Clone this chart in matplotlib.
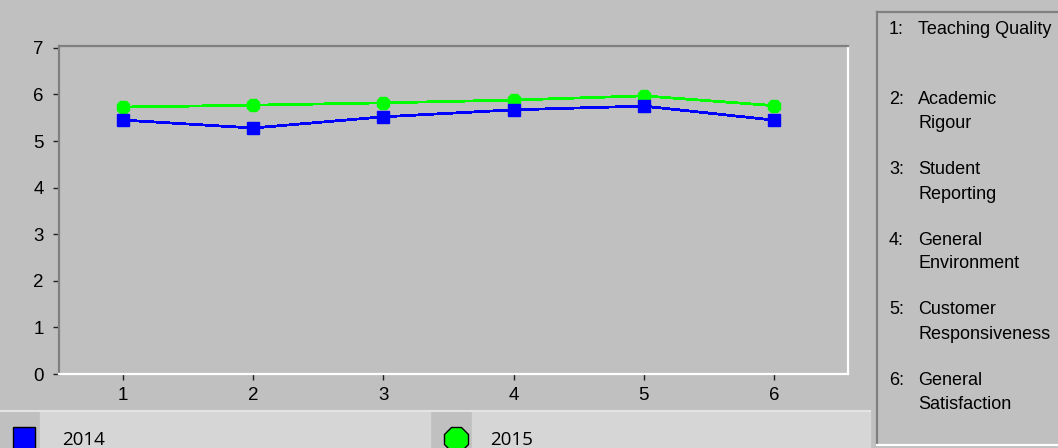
import matplotlib
matplotlib.use('Agg')
import matplotlib.pyplot as plt
from matplotlib.patches import Rectangle

W, H = 1058, 448

categories = [1, 2, 3, 4, 5, 6]
scores_2014 = [5.45, 5.28, 5.52, 5.67, 5.75, 5.45]
scores_2015 = [5.73, 5.77, 5.82, 5.88, 5.97, 5.76]
series_labels = ['2014', '2015']
y_ticks = [0, 1, 2, 3, 4, 5, 6, 7]
key_lines = [
    ('1:', ['Teaching Quality']),
    ('2:', ['Academic', 'Rigour']),
    ('3:', ['Student', 'Reporting']),
    ('4:', ['General', 'Environment']),
    ('5:', ['Customer', 'Responsiveness']),
    ('6:', ['General', 'Satisfaction']),
]

BG = '#c0c0c0'
CELL = '#d6d6d6'
DARK = '#808080'

plt.rcParams['font.family'] = ['Liberation Sans', 'DejaVu Sans']

fig = plt.figure(figsize=(W / 100, H / 100), dpi=100, facecolor=BG)


def fx(px):
    return px / W


def fy(py):
    return 1 - py / H


ax = fig.add_axes([fx(59), fy(374), fx(848) - fx(59), fy(46) - fy(374)])
ax.set_facecolor(BG)
ax.plot(categories, scores_2014, color='#0000ff', lw=1.3, marker='s', ms=9,
        mec='#0000ff', antialiased=False, label=series_labels[0], zorder=3)
ax.plot(categories, scores_2015, color='#00ff00', lw=1.3, marker='8', ms=9.5,
        mec='#00ff00', antialiased=False, label=series_labels[1], zorder=2)
ax.set_xlim(0.508, 6.57)
ax.set_ylim(0, 7.04)
ax.set_xticks(categories)
ax.set_yticks(y_ticks)
ax.tick_params(axis='y', length=4, width=1, color='#202020', pad=7,
               labelsize=13.5)
ax.tick_params(axis='x', length=4, width=1, color='#202020', pad=5,
               labelsize=13.5)
for side, c in [('left', DARK), ('top', DARK), ('right', 'white'), ('bottom', 'white')]:
    ax.spines[side].set_color(c)
    ax.spines[side].set_linewidth(1.6)

# legend strip along the bottom
fig.patches.append(Rectangle((fx(40), 0), fx(430) - fx(40), fy(412),
                             transform=fig.transFigure, color=CELL, zorder=0))
fig.patches.append(Rectangle((fx(472), 0), fx(870) - fx(472), fy(412),
                             transform=fig.transFigure, color=CELL, zorder=0))
fig.lines.append(plt.Line2D([fx(0), fx(870)], [fy(411), fy(411)],
                            transform=fig.transFigure, color='#e4e4e4', lw=1.5))
fig.lines.append(plt.Line2D([fx(24)], [fy(438)], transform=fig.transFigure,
                            marker='s', ms=16, color='#0000ff', mec='black', mew=1))
fig.lines.append(plt.Line2D([fx(456)], [fy(439)], transform=fig.transFigure,
                            marker='8', ms=18, color='#00ff00', mec='black', mew=1))
fig.text(fx(62), fy(440), series_labels[0], fontsize=13.5, va='center',
         family=['Open Sans', 'DejaVu Sans'])
fig.text(fx(490), fy(440), series_labels[1], fontsize=13.5, va='center',
         family=['Open Sans', 'DejaVu Sans'])

# right-hand key panel
fig.lines.append(plt.Line2D([fx(877), fx(877)], [fy(12), fy(445)],
                            transform=fig.transFigure, color=DARK, lw=1.6))
fig.lines.append(plt.Line2D([fx(877), fx(1058)], [fy(12), fy(12)],
                            transform=fig.transFigure, color=DARK, lw=1.6))
fig.lines.append(plt.Line2D([fx(877), fx(1058)], [fy(445), fy(445)],
                            transform=fig.transFigure, color='white', lw=1.6))
y0 = 30
for num, words in key_lines:
    fig.text(fx(889), fy(y0), num, fontsize=13, va='center')
    for k, w in enumerate(words):
        fig.text(fx(918), fy(y0 + 24 * k), w, fontsize=13, va='center')
    y0 += 70

fig.savefig('out.png', dpi=100, facecolor=BG)
